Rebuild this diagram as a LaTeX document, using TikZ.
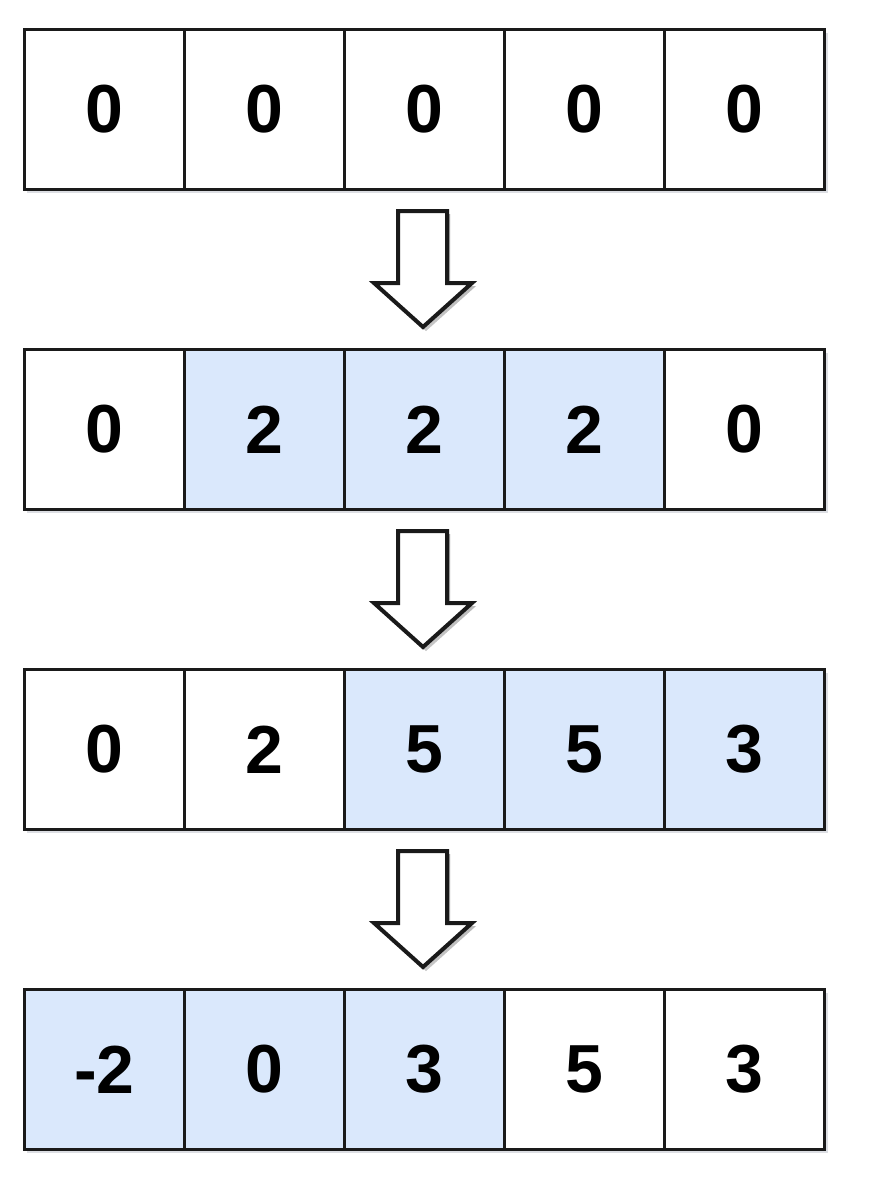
\documentclass[tikz,border=0pt]{standalone}
\usepackage{fontspec}
\setmainfont{Liberation Sans}
\usetikzlibrary{positioning}
\definecolor{bluefill}{HTML}{DAE8FC}
\definecolor{edge}{HTML}{1A1A1A}
\definecolor{shade}{HTML}{9AA0B0}
\begin{document}
\begin{tikzpicture}[x=1pt,y=-1pt,
  cell/.style={draw=edge,line width=3pt,minimum width=160pt,minimum height=160pt,inner sep=0pt,anchor=north west,font=\fontsize{68}{68}\selectfont\bfseries,fill=white},
  hl/.style={cell,fill=bluefill},
  shadowbox/.style={fill=shade,opacity=0.35},
  blockarrow/.style={draw=edge,line width=4pt,fill=white,line join=miter}
]
\useasboundingbox (0,0) rectangle (870,1196);
% shadows
\foreach \y in {28,348,668,988} {
  \fill[shadowbox] (27,\y+5) rectangle (828,\y+165);
}
% row 1
\node[cell] (a1) at (23,28) {0};
\node[cell] (a2) at (183,28) {0};
\node[cell] (a3) at (343,28) {0};
\node[cell] (a4) at (503,28) {0};
\node[cell] (a5) at (663,28) {0};
% row 2
\node[cell] (b1) at (23,348) {0};
\node[hl] (b2) at (183,348) {2};
\node[hl] (b3) at (343,348) {2};
\node[hl] (b4) at (503,348) {2};
\node[cell] (b5) at (663,348) {0};
% row 3
\node[cell] (c1) at (23,668) {0};
\node[cell] (c2) at (183,668) {2};
\node[hl] (c3) at (343,668) {5};
\node[hl] (c4) at (503,668) {5};
\node[hl] (c5) at (663,668) {3};
% row 4
\node[hl] (d1) at (23,988) {-2};
\node[hl] (d2) at (183,988) {0};
\node[hl] (d3) at (343,988) {3};
\node[cell] (d4) at (503,988) {5};
\node[cell] (d5) at (663,988) {3};
% arrows
\foreach \t in {211,531,851} {
  \fill[shade,opacity=0.3] (401,\t+3) -- (450,\t+3) -- (450,\t+75) -- (476,\t+75) -- (426,\t+120) -- (376,\t+75) -- (401,\t+75) -- cycle;
  \draw[blockarrow] (398,\t) -- (447,\t) -- (447,\t+72) -- (472,\t+72) -- (423,\t+116) -- (374,\t+72) -- (398,\t+72) -- cycle;
}
\end{tikzpicture}
\end{document}
